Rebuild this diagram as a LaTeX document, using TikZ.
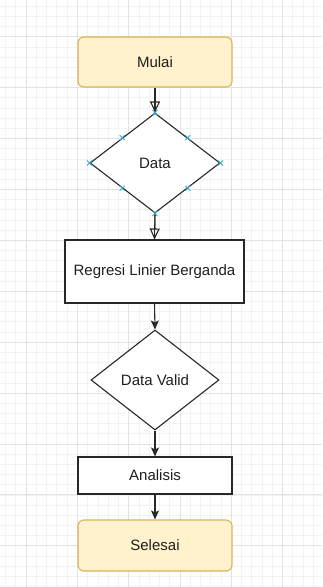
\documentclass[tikz,border=0pt]{standalone}
\usepackage{fontspec}
\setmainfont{Liberation Sans}
\usetikzlibrary{shapes.geometric,arrows.meta,calc}
\definecolor{minorgrid}{RGB}{243,243,243}
\definecolor{majorgrid}{RGB}{226,226,226}
\definecolor{termfill}{RGB}{255,242,204}
\definecolor{termdraw}{RGB}{214,182,86}
\definecolor{linecol}{RGB}{40,40,40}
\definecolor{markcol}{RGB}{60,168,215}
\tikzset{
  base/.style={font=\fontsize{15}{18}\selectfont, text=black!88, inner sep=0pt, line width=1.1pt},
  term/.style={base, rectangle, rounded corners=6pt, draw=termdraw, fill=termfill, minimum width=154pt, minimum height=50pt},
  proc/.style={base, rectangle, draw=linecol, fill=white},
  decision/.style={base, diamond, draw=linecol, fill=white},
  plainline/.style={draw=linecol, line width=1.1pt},
  flowarrow/.style={draw=linecol, line width=1.1pt, -{Stealth[length=9pt,width=8pt,inset=2pt]}},
  openarrow/.style={draw=linecol, line width=1.1pt, -{Triangle[open,length=11pt,width=10pt]}},
  markx/.style={draw=markcol, line width=0.8pt}
}
\newcommand{\xmark}[1]{\draw[markx] ($(#1)+(-2.5,-2.5)$) -- ($(#1)+(2.5,2.5)$) ($(#1)+(-2.5,2.5)$) -- ($(#1)+(2.5,-2.5)$);}
\begin{document}
\begin{tikzpicture}[x=1pt,y=-1pt]
\useasboundingbox (0,0) rectangle (322,587);
\fill[white] (0,0) rectangle (322,587);
% grid
\foreach \i in {-3,...,30} {\draw[minorgrid, line width=0.6pt] ({26+\i*10.26},0) -- ({26+\i*10.26},587);}
\foreach \j in {-4,...,54} {\draw[minorgrid, line width=0.6pt] (0,{36.7+\j*10.18}) -- (322,{36.7+\j*10.18});}
\foreach \i in {0,...,5} {\draw[majorgrid, line width=0.8pt] ({26+\i*51.3},0) -- ({26+\i*51.3},587);}
\foreach \j in {0,...,10} {\draw[majorgrid, line width=0.8pt] (0,{36.7+\j*50.9}) -- (322,{36.7+\j*50.9});}
% nodes
\node[term] (mulai) at (155,62) {Mulai};
\node[decision, minimum width=130pt, minimum height=100pt] (data) at (155,163) {Data};
\node[proc, minimum width=179pt, minimum height=63pt] (regresi) at (154.5,271.5) {Regresi Linier Berganda};
\node[decision, minimum width=128pt, minimum height=100pt] (valid) at (155,380) {Data Valid};
\node[proc, minimum width=154pt, minimum height=37pt] (analisis) at (155,475.5) {Analisis};
\node[term, minimum height=51pt] (selesai) at (155,545.5) {Selesai};
% connectors
\draw[plainline] (mulai.south) -- (data.north);
\draw[openarrow] (mulai.south) -- (data.north);
\draw[plainline] (data.south) -- (regresi.north);
\draw[openarrow] (data.south) -- (regresi.north);
\draw[flowarrow] (regresi.south) -- (valid.north);
\draw[flowarrow] (valid.south) -- (analisis.north);
\draw[flowarrow] (analisis.south) -- (selesai.north);
% selection markers on Data
\coordinate (m1) at ($(data.north)!0.5!(data.east)$);
\coordinate (m2) at ($(data.east)!0.5!(data.south)$);
\coordinate (m3) at ($(data.south)!0.5!(data.west)$);
\coordinate (m4) at ($(data.west)!0.5!(data.north)$);
\xmark{data.north}\xmark{data.south}\xmark{data.east}\xmark{data.west}
\xmark{m1}\xmark{m2}\xmark{m3}\xmark{m4}
\end{tikzpicture}
\end{document}
